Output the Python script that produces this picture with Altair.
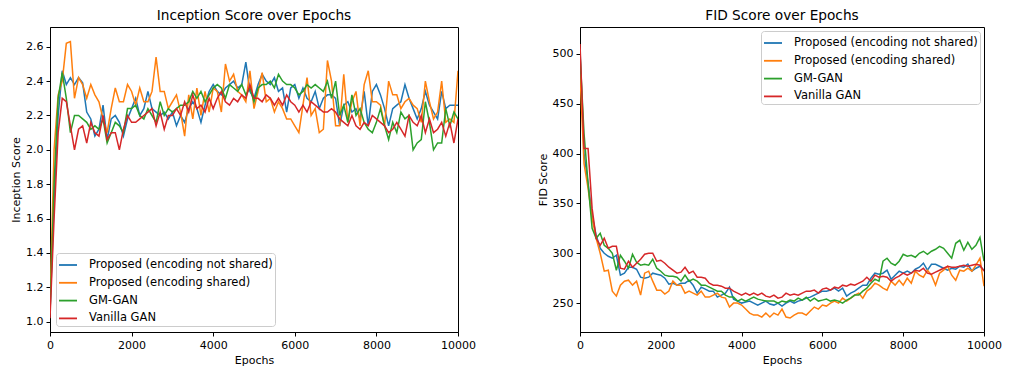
import altair as alt
import pandas as pd

epochs = list(range(0, 10001, 100))
series_names = ["Proposed (encoding not shared)", "Proposed (encoding shared)", "GM-GAN", "Vanilla GAN"]
series_colors = ["#1f77b4", "#ff7f0e", "#2ca02c", "#d62728"]

is_not_shared = [
    1.05, 1.70, 2.20, 2.46, 2.38, 2.42, 2.38, 2.42, 2.39, 2.22,
    2.18, 2.08, 2.12, 2.26, 2.06, 2.18, 2.20, 2.16, 2.08, 2.18,
    2.24, 2.30, 2.20, 2.24, 2.34, 2.24, 2.22, 2.20, 2.22, 2.18,
    2.22, 2.14, 2.20, 2.16, 2.24, 2.28, 2.24, 2.16, 2.26, 2.34,
    2.38, 2.34, 2.32, 2.36, 2.38, 2.40, 2.36, 2.38, 2.51, 2.34,
    2.30, 2.38, 2.44, 2.40, 2.38, 2.42, 2.34, 2.36, 2.22, 2.36,
    2.38, 2.30, 2.36, 2.30, 2.28, 2.34, 2.24, 2.30, 2.32, 2.32,
    2.30, 2.14, 2.26, 2.28, 2.22, 2.24, 2.18, 2.34, 2.14, 2.34,
    2.38, 2.32, 2.24, 2.14, 2.24, 2.26, 2.28, 2.38, 2.30, 2.24,
    2.18, 2.24, 2.34, 2.26, 2.22, 2.18, 2.34, 2.24, 2.26, 2.26,
    2.26,
]
is_shared = [
    1.10, 2.00, 2.32, 2.40, 2.62, 2.63, 2.30, 2.42, 2.38, 2.30,
    2.38, 2.32, 2.28, 2.18, 2.10, 2.24, 2.36, 2.28, 2.28, 2.38,
    2.34, 2.26, 2.36, 2.28, 2.28, 2.34, 2.54, 2.34, 2.34, 2.24,
    2.28, 2.32, 2.22, 2.08, 2.32, 2.18, 2.36, 2.20, 2.34, 2.22,
    2.36, 2.34, 2.22, 2.50, 2.40, 2.44, 2.34, 2.32, 2.28, 2.46,
    2.24, 2.34, 2.45, 2.28, 2.30, 2.22, 2.28, 2.24, 2.18, 2.18,
    2.14, 2.10, 2.26, 2.42, 2.20, 2.24, 2.10, 2.12, 2.52, 2.40,
    2.14, 2.14, 2.44, 2.16, 2.28, 2.34, 2.14, 2.38, 2.46, 2.28,
    2.28, 2.26, 2.14, 2.40, 2.32, 2.32, 2.24, 2.28, 2.30, 2.26,
    2.24, 2.16, 2.40, 2.28, 2.18, 2.22, 2.40, 2.16, 2.18, 2.16,
    2.46,
]
is_gmgan = [
    1.05, 1.80, 2.30, 2.45, 2.30, 2.10, 2.20, 2.20, 2.18, 2.16,
    2.12, 2.14, 2.12, 2.18, 2.04, 2.10, 2.16, 2.14, 2.10, 2.24,
    2.24, 2.26, 2.20, 2.18, 2.24, 2.20, 2.16, 2.28, 2.20, 2.24,
    2.22, 2.24, 2.26, 2.26, 2.28, 2.34, 2.30, 2.34, 2.28, 2.32,
    2.36, 2.38, 2.36, 2.30, 2.38, 2.36, 2.34, 2.38, 2.32, 2.36,
    2.28, 2.36, 2.38, 2.38, 2.40, 2.36, 2.44, 2.40, 2.38, 2.38,
    2.36, 2.32, 2.34, 2.38, 2.36, 2.38, 2.36, 2.34, 2.40, 2.30,
    2.40, 2.20, 2.26, 2.16, 2.32, 2.20, 2.24, 2.16, 2.12, 2.10,
    2.16, 2.24, 2.14, 2.06, 2.16, 2.10, 2.22, 2.18, 2.20, 2.00,
    2.04, 2.06, 2.28, 2.16, 2.00, 2.04, 2.04, 2.24, 2.14, 2.22,
    2.18,
]
is_vanilla = [
    1.02, 1.60, 2.10, 2.30, 2.28, 2.14, 2.00, 2.12, 2.14, 2.04,
    2.16, 2.10, 2.08, 2.20, 2.06, 2.10, 2.10, 2.00, 2.12, 2.20,
    2.16, 2.16, 2.18, 2.20, 2.22, 2.24, 2.14, 2.22, 2.12, 2.20,
    2.20, 2.24, 2.20, 2.28, 2.22, 2.32, 2.24, 2.26, 2.22, 2.30,
    2.24, 2.30, 2.34, 2.28, 2.26, 2.30, 2.28, 2.32, 2.30, 2.38,
    2.30, 2.30, 2.28, 2.32, 2.30, 2.26, 2.30, 2.26, 2.32, 2.28,
    2.26, 2.22, 2.26, 2.22, 2.28, 2.26, 2.24, 2.22, 2.22, 2.24,
    2.22, 2.18, 2.16, 2.14, 2.20, 2.14, 2.12, 2.16, 2.14, 2.20,
    2.18, 2.16, 2.14, 2.10, 2.12, 2.16, 2.12, 2.08, 2.20, 2.16,
    2.14, 2.20, 2.10, 2.18, 2.10, 2.12, 2.16, 2.08, 2.16, 2.04,
    2.18,
]

fid_not_shared = [
    505, 400, 370, 338, 318, 305, 300, 297, 295, 298,
    278, 280, 286, 286, 284, 276, 275, 276, 280, 279,
    278, 275, 269, 270, 268, 270, 270, 273, 268, 260,
    266, 264, 262, 262, 256, 258, 260, 266, 254, 252,
    250, 251, 252, 250, 248, 250, 252, 249, 248, 250,
    247, 250, 252, 250, 252, 253, 255, 256, 258, 260,
    262, 262, 263, 265, 262, 265, 257, 260, 262, 265,
    268, 268, 275, 280, 279, 280, 283, 274, 278, 282,
    280, 282, 280, 284, 286, 290, 283, 289, 289, 287,
    285, 283, 285, 284, 287, 286, 289, 282, 285, 287,
    283,
]
fid_shared = [
    480, 390, 365, 335, 315, 300, 282, 283, 262, 257,
    268, 272, 273, 268, 272, 258, 280, 282, 272, 263,
    263, 259, 262, 272, 268, 268, 260, 262, 260, 258,
    262, 256, 256, 258, 260, 256, 255, 246, 250, 250,
    248, 244, 240, 238, 238, 236, 240, 236, 240, 238,
    244, 236, 235, 238, 240, 240, 238, 242, 246, 244,
    248, 247, 250, 252, 250, 255, 252, 255, 258, 260,
    255, 262, 265, 270, 268, 265, 263, 272, 268, 273,
    268, 275, 270, 282, 278, 276, 283, 278, 268, 280,
    283, 287, 278, 273, 283, 282, 285, 282, 288, 295,
    267,
]
fid_gmgan = [
    500, 420, 370, 325, 315, 320, 308, 305, 300, 283,
    298, 292, 285, 299, 291, 288, 289, 288, 294, 285,
    282, 278, 277, 277, 276, 272, 278, 272, 274, 272,
    268, 268, 266, 264, 262, 262, 258, 256, 256, 252,
    254, 252, 254, 256, 254, 253, 252, 252, 252, 250,
    252, 251, 253, 252, 255, 253, 256, 252, 255, 252,
    253, 254, 252, 253, 252, 250, 253, 255, 258, 258,
    262, 265, 270, 274, 272, 292, 295, 290, 288, 292,
    299, 297, 298, 296, 300, 302, 299, 302, 304, 307,
    305, 300, 295, 310, 313, 303, 311, 304, 308, 316,
    292,
]
fid_vanilla = [
    510, 405, 405, 345, 315, 308, 315, 305, 307, 307,
    285, 284, 292, 286, 290, 294, 299, 300, 300, 292,
    293, 290, 286, 283, 280, 281, 286, 280, 282, 276,
    276, 275, 270, 268, 268, 267, 265, 265, 262, 260,
    258, 260, 258, 260, 258, 260, 257, 256, 258, 255,
    256, 260, 258, 259, 258, 260, 262, 262, 263, 260,
    264, 265, 263, 266, 265, 268, 267, 269, 268, 270,
    272, 276, 272, 278, 276, 277, 276, 272, 275, 277,
    280, 278, 280, 283, 282, 285, 280, 279, 281, 283,
    285, 287, 286, 286, 287, 288, 287, 288, 289, 288,
    282,
]

x_ticks = [0, 2000, 4000, 6000, 8000, 10000]
is_ticks = [1.0, 1.2, 1.4, 1.6, 1.8, 2.0, 2.2, 2.4, 2.6]
fid_ticks = [250, 300, 350, 400, 450, 500]


def to_long(arrays):
    rows = []
    for name, arr in zip(series_names, arrays):
        for e, v in zip(epochs, arr):
            rows.append({"Epochs": e, "value": v, "series": name})
    return pd.DataFrame(rows)


df_is = to_long([is_not_shared, is_shared, is_gmgan, is_vanilla])
df_fid = to_long([fid_not_shared, fid_shared, fid_gmgan, fid_vanilla])


def legend(orient, offset):
    return alt.Legend(
        title=None,
        orient=orient,
        offset=offset,
        fillColor="white",
        strokeColor="#cccccc",
        cornerRadius=3,
        padding=2,
        labelFontSize=11.5,
        labelColor="black",
        labelOffset=11,
        symbolType="stroke",
        symbolSize=324,
        symbolStrokeWidth=1.8,
        rowPadding=1.8,
        labelLimit=400,
    )


def panel(df, title, ytitle, ydomain, yticks, yfmt, legend_orient, width, loff):
    return (
        alt.Chart(df, title=title)
        .mark_line(strokeWidth=1.5, clip=True)
        .encode(
            x=alt.X(
                "Epochs:Q",
                scale=alt.Scale(domain=[0, 10000], nice=False, zero=False),
                axis=alt.Axis(values=x_ticks, title="Epochs", format="d"),
            ),
            y=alt.Y(
                "value:Q",
                scale=alt.Scale(domain=ydomain, nice=False, zero=False),
                axis=alt.Axis(values=yticks, title=ytitle, format=yfmt),
            ),
            color=alt.Color(
                "series:N",
                scale=alt.Scale(domain=series_names, range=series_colors),
                legend=legend(legend_orient, loff),
            ),
        )
        .properties(width=width, height=305)
    )


left = panel(df_is, "Inception Score over Epochs", "Inception Score",
             [0.94, 2.715], is_ticks, ".1f", "bottom-left", 408, 6)
right = panel(df_fid, "FID Score over Epochs", "FID Score",
              [221, 527], fid_ticks, "d", "top-right", 404, 4)

chart = (
    alt.hconcat(left, right, spacing=60)
    .resolve_scale(color="independent")
    .resolve_legend(color="independent")
    .properties(padding={"left": 2, "top": 0, "right": 0, "bottom": 0})
    .configure(font="DejaVu Sans")
    .configure_view(stroke="black", strokeWidth=1)
    .configure_axis(
        grid=False,
        domainColor="black",
        tickColor="black",
        tickSize=4,
        labelColor="black",
        labelFontSize=11,
        labelPadding=3,
        labelFlush=False,
        titleFontSize=11,
        titleFontWeight="normal",
        titleColor="black",
        titlePadding=4,
    )
    .configure_title(fontSize=13.7, fontWeight="normal", color="black", offset=4)
)

chart.save("out.html", embed_options={"renderer": "svg", "actions": False})
